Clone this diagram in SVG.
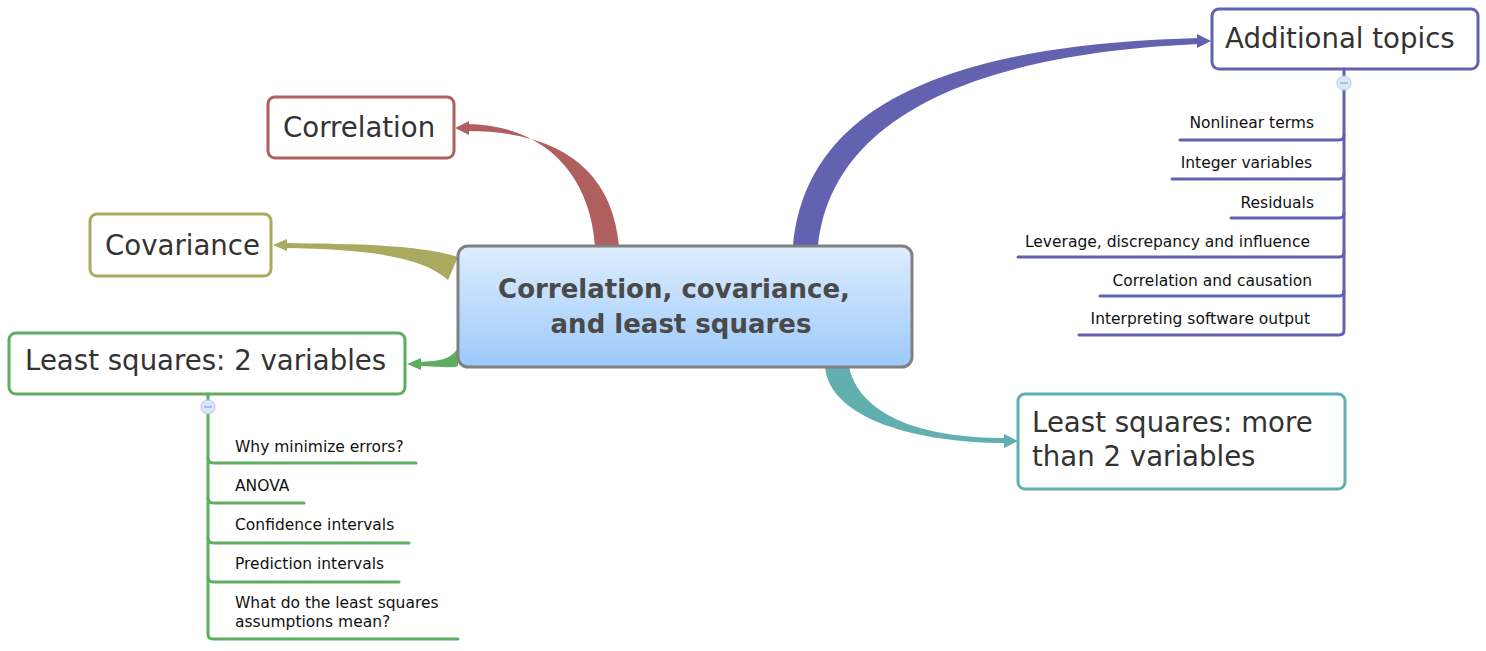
<svg xmlns="http://www.w3.org/2000/svg" width="1486" height="651" viewBox="0 0 1486 651">
<defs>
<linearGradient id="cg" x1="0" y1="0" x2="0" y2="1">
<stop offset="0" stop-color="#deedfd"/>
<stop offset="1" stop-color="#9ccafb"/>
</linearGradient>
<style>
.node{fill:#fff;stroke-width:3}
.t{font-family:"DejaVu Sans","Liberation Sans",sans-serif;font-size:27.6px;fill:#333}
.s{font-family:"DejaVu Sans","Liberation Sans",sans-serif;font-size:15.5px;fill:#111}
.br{fill:none;stroke-width:3;stroke-linecap:round}
.tog{fill:#dbe8fb;stroke:#a9c4ec;stroke-width:1}
.togd{stroke:#7f98c0;stroke-width:1}
.ct{font-family:"DejaVu Sans","Liberation Sans",sans-serif;font-size:26px;font-weight:bold;fill:#4a4a4a}
</style>
</defs>
<rect width="1486" height="651" fill="#fff"/>
<g id="connectors">
<path d="M595 246 C590 175 545 125 467 124 L467 131 C560 131 612 170 619 246 Z" fill="#b05f5f"/>
<polygon points="455,128 469,121 469,135" fill="#b05f5f"/>
<path d="M458 257 C420 245 360 244 285 243 L285 248 C360 249 420 255 448 280 Z" fill="#aaaa5f"/>
<polygon points="273,245 287,239 287,251" fill="#aaaa5f"/>
<path d="M458 348 C450 360 440 361 418 362 L418 366 C440 367 455 368 458 366 Z" fill="#5fae5f"/>
<polygon points="407,364 421,358 421,370" fill="#5fae5f"/>
<path d="M793 246 C805 120 920 45 1199 38 L1199 44 C950 55 830 130 818 246 Z" fill="#6262b0"/>
<polygon points="1211,41 1197,34 1197,48" fill="#6262b0"/>
<path d="M825 367 C830 420 920 443 1005 443 L1005 438 C920 438 860 415 849 367 Z" fill="#62afaf"/>
<polygon points="1018,441 1004,434 1004,448" fill="#62afaf"/>
</g>
<g id="center">
<rect x="458" y="246" width="454" height="121" rx="10" fill="url(#cg)" stroke="#808080" stroke-width="3"/>
<text class="ct" x="674" y="298" text-anchor="middle">Correlation, covariance,</text>
<text class="ct" x="681" y="333" text-anchor="middle">and least squares</text>
</g>
<g id="correlation">
<rect class="node" x="268" y="97" width="186" height="61" rx="7" stroke="#b05f5f"/>
<text class="t" x="283" y="137">Correlation</text>
</g>
<g id="covariance">
<rect class="node" x="90" y="214" width="181" height="62" rx="7" stroke="#aaaa5f"/>
<text class="t" x="105" y="255">Covariance</text>
</g>
<g id="ls2">
<rect class="node" x="9" y="333" width="396" height="61" rx="7" stroke="#5fae5f"/>
<text class="t" x="25" y="370">Least squares: 2 variables</text>
<path class="br" stroke="#5fae5f" d="M208 394 V634 Q208 639 213 639 H458"/>
<path class="br" stroke="#5fae5f" d="M208 458 Q208 463 213 463 H416"/>
<path class="br" stroke="#5fae5f" d="M208 498 Q208 503 213 503 H304"/>
<path class="br" stroke="#5fae5f" d="M208 538 Q208 543 213 543 H409"/>
<path class="br" stroke="#5fae5f" d="M208 577 Q208 582 213 582 H399"/>
<circle class="tog" cx="208" cy="407" r="7"/>
<line class="togd" x1="204" y1="407" x2="212" y2="407"/>
<text class="s" x="235" y="452">Why minimize errors?</text>
<text class="s" x="235" y="491">ANOVA</text>
<text class="s" x="235" y="530">Confidence intervals</text>
<text class="s" x="235" y="569">Prediction intervals</text>
<text class="s" x="235" y="608">What do the least squares</text>
<text class="s" x="235" y="627">assumptions mean?</text>
</g>
<g id="additional">
<rect class="node" x="1212" y="9" width="266" height="60" rx="7" stroke="#6262b0"/>
<text class="t" x="1225" y="48">Additional topics</text>
<path class="br" stroke="#6262b0" d="M1344 69 V330 Q1344 335 1339 335 H1079"/>
<path class="br" stroke="#6262b0" d="M1180 140 H1339 Q1344 140 1344 135"/>
<path class="br" stroke="#6262b0" d="M1172 179 H1339 Q1344 179 1344 174"/>
<path class="br" stroke="#6262b0" d="M1231 218 H1339 Q1344 218 1344 213"/>
<path class="br" stroke="#6262b0" d="M1018 257 H1339 Q1344 257 1344 252"/>
<path class="br" stroke="#6262b0" d="M1100 296 H1339 Q1344 296 1344 291"/>
<circle class="tog" cx="1344" cy="83" r="7"/>
<line class="togd" x1="1340" y1="83" x2="1348" y2="83"/>
<text class="s" x="1314" y="128" text-anchor="end">Nonlinear terms</text>
<text class="s" x="1312" y="168" text-anchor="end">Integer variables</text>
<text class="s" x="1314" y="208" text-anchor="end">Residuals</text>
<text class="s" x="1310" y="247" text-anchor="end">Leverage, discrepancy and influence</text>
<text class="s" x="1312" y="286" text-anchor="end">Correlation and causation</text>
<text class="s" x="1310" y="324" text-anchor="end">Interpreting software output</text>
</g>
<g id="ls3">
<rect class="node" x="1018" y="394" width="327" height="95" rx="7" stroke="#62afaf"/>
<text class="t" x="1032" y="432">Least squares: more</text>
<text class="t" x="1032" y="466">than 2 variables</text>
</g>
</svg>
